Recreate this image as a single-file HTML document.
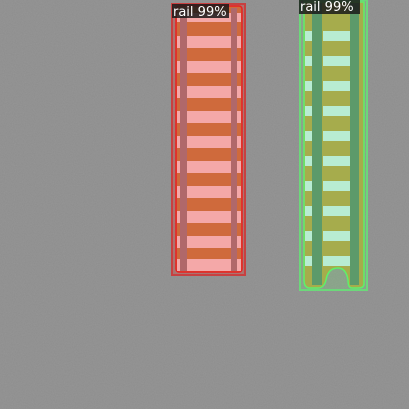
<!DOCTYPE html>
<html><head><meta charset="utf-8"><style>
html,body{margin:0;padding:0;width:409px;height:409px;overflow:hidden;background:#8e8e8e}
svg{display:block}
text{font-family:"DejaVu Sans","Liberation Sans",sans-serif}
</style></head><body>
<svg width="409" height="409" viewBox="0 0 409 409">
<defs>
<filter id="noise" x="0" y="0" width="100%" height="100%">
<feTurbulence type="fractalNoise" baseFrequency="0.9" numOctaves="2" seed="3"/>
<feColorMatrix type="matrix" values="0 0 0 0 0.5  0 0 0 0 0.5  0 0 0 0 0.5  0 0 0 0.35 0"/>
</filter>
</defs>
<rect width="409" height="409" fill="#8d8d8d"/>
<rect width="409" height="409" filter="url(#noise)" opacity="0.6"/>

<g>
<rect x="172" y="4" width="73" height="271" fill="rgba(220,60,50,0.35)" stroke="#c84040" stroke-width="2"/>
<rect x="176" y="6" width="66" height="266" rx="3" fill="#cf6a3c" stroke="#e82020" stroke-width="1.5"/>
<g id="lties"></g>
<rect x="180" y="8" width="7" height="263" fill="#b0686a"/>
<rect x="231" y="8" width="6" height="263" fill="#b0686a"/>
<rect x="172" y="4" width="57" height="14" fill="#1a1a1a" opacity="0.85"/>
<text x="173" y="16" font-size="13" fill="#fff">rail 99%</text>
</g>

<g>
<rect x="300" y="0" width="67" height="290" fill="rgba(120,220,120,0.25)" stroke="#6cd87a" stroke-width="2"/>
<path d="M304 2 L364 2 L364 284 Q364 288 358 288 L352 288 Q348 288 348 280 Q346 268 338 268 Q328 268 326 280 Q324 288 318 288 L310 288 Q304 288 304 280 Z" fill="#a6ac4c" stroke="#5ef06a" stroke-width="1.5"/>
<g id="rties"></g>
<rect x="312" y="3" width="10" height="282" fill="#5c9a6a"/>
<rect x="350" y="3" width="9" height="282" fill="#5c9a6a"/>
<rect x="299" y="0" width="61" height="14" fill="#1a1a1a" opacity="0.85"/>
<text x="300" y="11" font-size="13" fill="#fff">rail 99%</text>
</g>
</svg>
<script>
const leftTieY=[13,36,61,86,111,136,161,186,211,236,259];
const rightTieY=[31,56,81,106,131,156,181,206,231,256];
const NS="http://www.w3.org/2000/svg";
const lg=document.getElementById('lties');
leftTieY.forEach(y=>{const r=document.createElementNS(NS,'rect');
r.setAttribute('x',177);r.setAttribute('y',y);r.setAttribute('width',64);r.setAttribute('height',y<20?9:12);r.setAttribute('fill','#f4a8a8');


lg.appendChild(r);});
const rg=document.getElementById('rties');
rightTieY.forEach(y=>{[[305,7],[323,29]].forEach(([x,w])=>{const r=document.createElementNS(NS,'rect');
r.setAttribute('x',x);r.setAttribute('y',y);r.setAttribute('width',w);r.setAttribute('height',10);r.setAttribute('fill','#b8ecd2');


rg.appendChild(r);});});
</script>
</body></html>
